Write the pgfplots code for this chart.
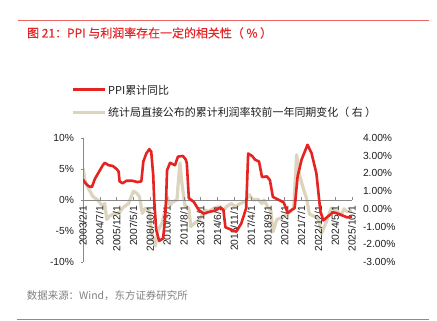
\documentclass[border=0pt]{standalone}
\usepackage{pgfplots}
\pgfplotsset{compat=1.18}
\usepackage{fontspec}
\setmainfont{Liberation Sans}
\newfontfamily\cjk{Noto Sans CJK SC}
\newfontfamily\cjkb[FakeBold=0.5]{Noto Sans CJK SC}
\definecolor{pred}{RGB}{229,35,32}
\definecolor{pbeige}{RGB}{221,212,190}
\definecolor{axgray}{RGB}{137,137,137}
\definecolor{tred}{RGB}{226,38,40}
\definecolor{rulered}{RGB}{234,100,100}
\definecolor{footgray}{RGB}{128,128,128}
\definecolor{txt}{RGB}{30,30,30}

\pgfplotstableread{
m v
0 3.3
3 2.6
6 2.2
9 2.1
12 3.4
16 4.5
20 5.6
22 6.0
26 5.6
30 5.5
34 5.0
36 4.6
37 3.0
40 2.7
44 3.1
50 3.1
55 2.9
59 3.0
61 6.2
64 7.5
67 8.2
69 7.8
71 4.0
72 0.0
74 -4.8
77 -6.6
81 -6.2
83 -3.0
84 0.0
85 4.8
88 6.0
93 5.6
96 7.0
101 7.1
104 6.5
105 5.9
107 0.3
112 -0.3
117 -1.6
122 -2.2
128 -1.9
134 -1.7
139 -1.2
142 -1.6
144 -4.4
150 -4.8
155 -5.1
160 -3.8
165 -1.3
167 7.5
171 7.1
174 6.5
178 6.2
181 3.7
186 3.8
189 3.2
192 0.5
197 0.1
203 -0.4
207 -2.1
210 -1.7
214 -1.3
217 3.8
221 6.5
227 8.9
231 7.6
236 4.3
240 -1.8
243 -3.3
248 -2.6
253 -2.0
256 -2.1
261 -2.4
267 -2.8
272 -2.7
}\ppi

\pgfplotstableread{
m v
0 2.3
2 1.6
5 1.2
10 0.7
15 0.5
19 0.2
22 0.3
24 -0.6
27 -0.4
32 -0.25
36 -0.25
41 0.1
46 0.3
51 1.0
54 0.9
57 0.7
60 -0.25
63 0.03
67 -0.06
69 -1.2
73 -2.1
76 -1.2
80 -0.8
83 -0.05
85 0.7
88 0.2
91 0.4
95 0.5
96 1.25
98 2.6
100 1.45
103 0.2
107 0.03
109 -1.0
113 -0.8
118 -0.6
123 -0.06
127 -0.15
132 0.03
137 0.12
142 -0.1
145 0.12
150 0.3
154 0.12
159 0.3
164 0.4
168 0.8
172 0.5
177 0.54
181 0.3
183 0.5
187 0.09
190 -0.1
192 -1.3
196 -0.6
201 -0.5
205 -0.35
210 -0.16
213 0.03
216 3.05
219 1.9
223 1.1
226 0.6
229 -0.3
233 -0.4
238 -0.55
241 -1.4
246 -0.75
251 0.05
256 -0.1
261 -0.35
264 0.0
267 -0.15
272 -0.12
}\profit

\begin{document}
\begin{tikzpicture}
\path[use as bounding box] (0bp,0bp) rectangle (437bp,321bp);
\draw[rulered, line width=0.8bp] (18bp,300.3bp) -- (429bp,300.3bp);
\node[anchor=base west, inner sep=0pt, text=tred, font=\cjkb\fontsize{12}{14}\selectfont] at (27bp,283.5bp) {图 21：PPI 与利润率存在一定的相关性（ \% ）};

\draw[pred, line width=3bp] (72.7bp,231bp) -- (105bp,231bp);
\node[anchor=west, inner sep=0pt, text=txt, font=\cjk\fontsize{11}{13}\selectfont] at (108bp,231bp) {PPI累计同比};
\draw[pbeige, line width=3bp] (72.7bp,208.7bp) -- (105bp,208.7bp);
\node[anchor=west, inner sep=0pt, text=txt, font=\cjk\fontsize{11}{13}\selectfont] at (108bp,208.7bp) {统计局直接公布的累计利润率较前一年同期变化（ 右 ）};

\node[anchor=west, inner sep=0pt, text=footgray, font=\cjk\fontsize{10.5}{12}\selectfont] at (26.7bp,25bp) {数据来源：Wind，东方证券研究所};
\draw[rulered, line width=1bp] (17bp,1.7bp) -- (429bp,1.7bp);

\begin{axis}[
  at={(83bp,59bp)}, anchor=south west, scale only axis,
  width=269bp, height=124bp,
  xmin=0, xmax=272, ymin=-3, ymax=4,
  axis x line=none, axis y line*=right,
  y axis line style={draw=none},
  ytick={-3,-2,...,4}, major tick length=0pt,
  /pgf/number format/assume math mode=true,
  yticklabel={\pgfmathprintnumber[fixed,fixed zerofill,precision=2]{\tick}\%},
  yticklabel style={font=\fontsize{10.3}{12}\selectfont, text=txt, xshift=7.5bp},
]
\addplot[pbeige, line width=3.2bp, line join=round] table[x=m,y=v] {\profit};
\end{axis}

\begin{axis}[
  at={(83bp,59bp)}, anchor=south west, scale only axis,
  width=269bp, height=124bp,
  xmin=0, xmax=272, ymin=-10, ymax=10,
  axis x line=middle, axis y line=left,
  hide obscured x ticks=false,
  axis line style={axgray, -, line width=0.6bp},
  tick style={axgray, line width=0.6bp},
  tick align=outside, major tick length=2.5bp,
  xtick style={yshift=2.5bp},
  ytick={-10,-5,...,10},
  /pgf/number format/assume math mode=true,
  yticklabel={\pgfmathprintnumber{\tick}\%},
  yticklabel style={font=\fontsize{10.3}{12}\selectfont, text=txt, xshift=-3bp},
  xtick={0,17,...,272},
  xticklabels={2003/2/1,2004/7/1,2005/12/1,2007/5/1,2008/10/1,2010/3/1,2011/8/1,2013/1/1,2014/6/1,2015/11/1,2017/4/1,2018/9/1,2020/2/1,2021/7/1,2022/12/1,2024/5/1,2025/10/1},
  xticklabel style={rotate=90, anchor=east, font=\fontsize{10.3}{12}\selectfont, text=txt},
]
\addplot[pred, line width=2.6bp, line join=round] table[x=m,y=v] {\ppi};
\end{axis}
\end{tikzpicture}
\end{document}
